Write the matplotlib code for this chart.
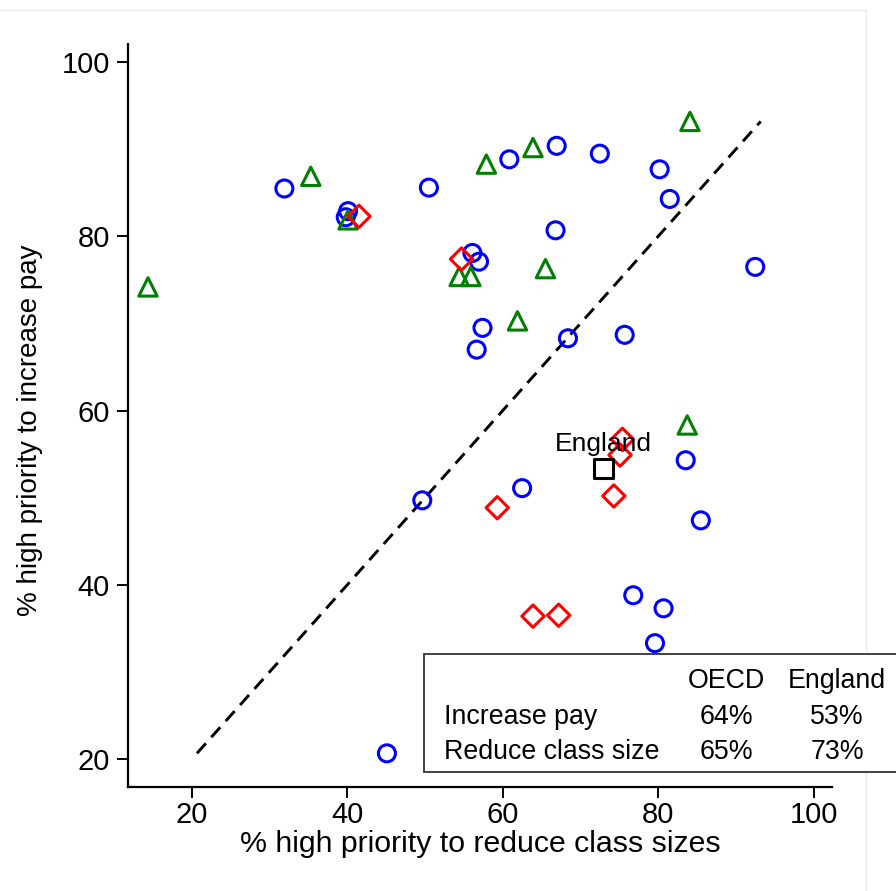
import matplotlib
matplotlib.use("Agg")
import matplotlib.pyplot as plt
from matplotlib.patches import Rectangle
from matplotlib.lines import Line2D

plt.rcParams['font.family'] = ['Liberation Sans', 'DejaVu Sans']

# Data (x = % reduce class sizes, y = % increase pay)
circle_x = [31.9, 40.1, 39.8, 50.5, 60.85, 66.95, 72.5, 80.2, 81.5, 66.8, 56.1, 56.95, 92.5,
            57.4, 56.65, 68.4, 75.7, 83.55, 62.5, 49.65, 85.5, 76.8, 80.7, 79.6, 45.1]
circle_y = [85.5, 82.9, 82.2, 85.6, 88.85, 90.4, 89.5, 87.7, 84.3, 80.7, 78.1, 77.1, 76.5,
            69.5, 67.0, 68.3, 68.7, 54.3, 51.1, 49.7, 47.4, 38.8, 37.3, 33.3, 20.65]
triangle_x = [14.35, 35.3, 40.1, 57.9, 63.9, 84.1, 54.4, 55.9, 65.5, 61.9, 83.75]
triangle_y = [74.2, 86.9, 81.9, 88.3, 90.2, 93.2, 75.4, 75.4, 76.3, 70.3, 58.35]
diamond_x = [41.5, 54.7, 75.4, 75.1, 74.3, 59.3, 63.9, 67.2]
diamond_y = [82.3, 77.4, 56.7, 54.9, 50.2, 48.85, 36.4, 36.5]
england_x = [73.0]
england_y = [53.4]
england_label = "England"

table_cols = ["OECD", "England"]
table_rows = ["Increase pay", "Reduce class size"]
table_vals = [["64%", "53%"], ["65%", "73%"]]

xticks = [20, 40, 60, 80, 100]
yticks = [20, 40, 60, 80, 100]

W, H = 896, 891
fig = plt.figure(figsize=(W / 100, H / 100), dpi=100)
fig.patch.set_facecolor('white')

# faint panel border
fig.add_artist(Line2D([0, 866 / W], [1 - 10 / H, 1 - 10 / H], color='#ececec', lw=1,
                      transform=fig.transFigure))
fig.add_artist(Line2D([866 / W, 866 / W], [0, 1 - 10 / H], color='#ececec', lw=1,
                      transform=fig.transFigure))

L, R, T, B = 128, 832, 44, 787
ax = fig.add_axes([L / W, 1 - B / H, (R - L) / W, (B - T) / H])
ax.set_facecolor('white')

x0 = 20 + (L - 191.9) / 7.77
x1 = 20 + (R - 191.9) / 7.77
y0 = 20 + (759 - B) / 8.71
y1 = 20 + (759 - T) / 8.71
ax.set_xlim(x0, x1)
ax.set_ylim(y0, y1)

ally = circle_y + triangle_y + diamond_y + england_y
lo, hi = min(ally), max(ally)
ax.plot([lo, hi], [lo, hi], color='black', lw=2.1, dashes=(4.6, 2.8), zorder=1)

ax.scatter(circle_x, circle_y, marker='o', s=150, facecolors='none', edgecolors='#0000ff',
           linewidths=2.2, zorder=3)
ax.scatter(triangle_x, triangle_y, marker='^', s=175, facecolors='none', edgecolors='#008000',
           linewidths=2.2, zorder=3)
ax.scatter(diamond_x, diamond_y, marker='D', s=130, facecolors='none', edgecolors='#ff0000',
           linewidths=2.2, zorder=3)
ax.scatter(england_x, england_y, marker='s', s=190, facecolors='none', edgecolors='black',
           linewidths=2.2, zorder=4)
ax.annotate(england_label, (england_x[0], england_y[0]), xytext=(0, 17),
            textcoords='offset points', ha='center', va='center', fontsize=19, zorder=5)

for s in ['top', 'right']:
    ax.spines[s].set_visible(False)
for s in ['left', 'bottom']:
    ax.spines[s].set_linewidth(1.6)

ax.set_xticks(xticks)
ax.set_yticks(yticks)
ax.tick_params(axis='both', length=8, width=1.4, labelsize=21)
ax.tick_params(axis='x', pad=2)
ax.tick_params(axis='y', pad=5)

ax.set_xlabel('% high priority to reduce class sizes', fontsize=21.8)
ax.set_ylabel('% high priority to increase pay', fontsize=20)
ax.xaxis.set_label_coords(0.501, -0.058)
ax.yaxis.set_label_coords(-0.121, 0.48)

# summary table box
bx0, by0, bx1, by1 = 424, 654, 900, 772
fig.add_artist(Rectangle((bx0 / W, 1 - by1 / H), (bx1 - bx0) / W, (by1 - by0) / H,
                         transform=fig.transFigure, facecolor='white', edgecolor='#333333',
                         lw=1.3, zorder=10))
col_x = [726, 837]
row_y = [717, 752]
head_y = 681
for cx, c in zip(col_x, table_cols):
    fig.text(cx / W, 1 - head_y / H, c, ha='center', va='center', fontsize=19.3, zorder=11)
for ry, r, vals in zip(row_y, table_rows, table_vals):
    fig.text(444 / W, 1 - ry / H, r, ha='left', va='center', fontsize=19.3, zorder=11)
    for cx, v in zip(col_x, vals):
        fig.text(cx / W, 1 - ry / H, v, ha='center', va='center', fontsize=19.3, zorder=11)

fig.savefig('out.png', dpi=100, facecolor='white')
